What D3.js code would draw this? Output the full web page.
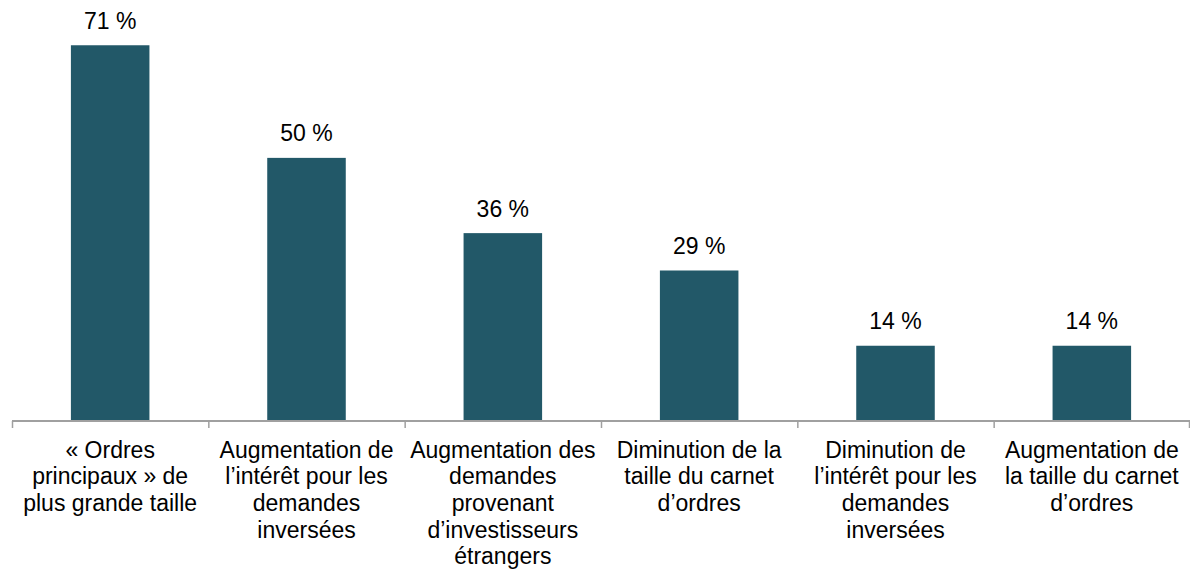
<!DOCTYPE html>
<html>
<head>
<meta charset="utf-8">
<script src="https://cdn.jsdelivr.net/npm/d3@7"></script>
<style>
  body { margin: 0; background: #fff; }
  text { font-family: "Liberation Sans", Arial, sans-serif; fill: #000; }
</style>
</head>
<body>
<script>
// data
var categories = [
  ["« Ordres", "principaux » de", "plus grande taille"],
  ["Augmentation de", "l’intérêt pour les", "demandes", "inversées"],
  ["Augmentation des", "demandes", "provenant", "d’investisseurs", "étrangers"],
  ["Diminution de la", "taille du carnet", "d’ordres"],
  ["Diminution de", "l’intérêt pour les", "demandes", "inversées"],
  ["Augmentation de", "la taille du carnet", "d’ordres"]
];
var values = [71.4, 50, 35.7, 28.6, 14.3, 14.3];
var yMax = 80;

var width = 1190, height = 573;
var axisY = 421, left = 12, right = 1190;

var svg = d3.select("body").append("svg")
  .attr("width", width)
  .attr("height", height);

var idx = d3.range(values.length);

var x = d3.scaleBand()
  .domain(idx)
  .range([left, right])
  .padding(0);

var y = d3.scaleLinear()
  .domain([0, yMax])
  .range([axisY, 0]);

var barW = x.bandwidth() * 0.4;

// bars
svg.selectAll("rect.bar").data(values).enter()
  .append("rect")
  .attr("class", "bar")
  .attr("x", function(d, i) { return x(i) + (x.bandwidth() - barW) / 2; })
  .attr("y", function(d) { return y(d); })
  .attr("width", barW)
  .attr("height", function(d) { return axisY - y(d); })
  .attr("fill", "#225868");

// value labels
svg.selectAll("text.val").data(values).enter()
  .append("text")
  .attr("class", "val")
  .attr("x", function(d, i) { return x(i) + x.bandwidth() / 2; })
  .attr("y", function(d) { return y(d) - 16.5; })
  .attr("text-anchor", "middle")
  .style("font-size", "23px")
  .text(function(d) { return Math.round(d) + " %"; });

// axis line + ticks between categories
svg.append("line")
  .attr("x1", left).attr("x2", right)
  .attr("y1", axisY).attr("y2", axisY)
  .attr("stroke", "#a0a0a0")
  .attr("stroke-width", 2);

var tickXs = idx.map(function(i) { return x(i); }).concat([right - 1]);
svg.selectAll("line.tick").data(tickXs).enter()
  .append("line")
  .attr("class", "tick")
  .attr("x1", function(d) { return d + 0.5; })
  .attr("x2", function(d) { return d + 0.5; })
  .attr("y1", axisY).attr("y2", axisY + 7)
  .attr("stroke", "#a0a0a0")
  .attr("stroke-width", 1.5);

// category labels
var cat = svg.selectAll("text.cat").data(categories).enter()
  .append("text")
  .attr("class", "cat")
  .attr("text-anchor", "middle")
  .style("font-size", "23px");

cat.selectAll("tspan").data(function(d, i) {
    return d.map(function(s) { return { s: s, i: i }; });
  }).enter()
  .append("tspan")
  .attr("x", function(d) { return x(d.i) + x.bandwidth() / 2; })
  .attr("y", function(d, j) { return 457.5 + j * 26.7; })
  .text(function(d) { return d.s; });
</script>
</body>
</html>
